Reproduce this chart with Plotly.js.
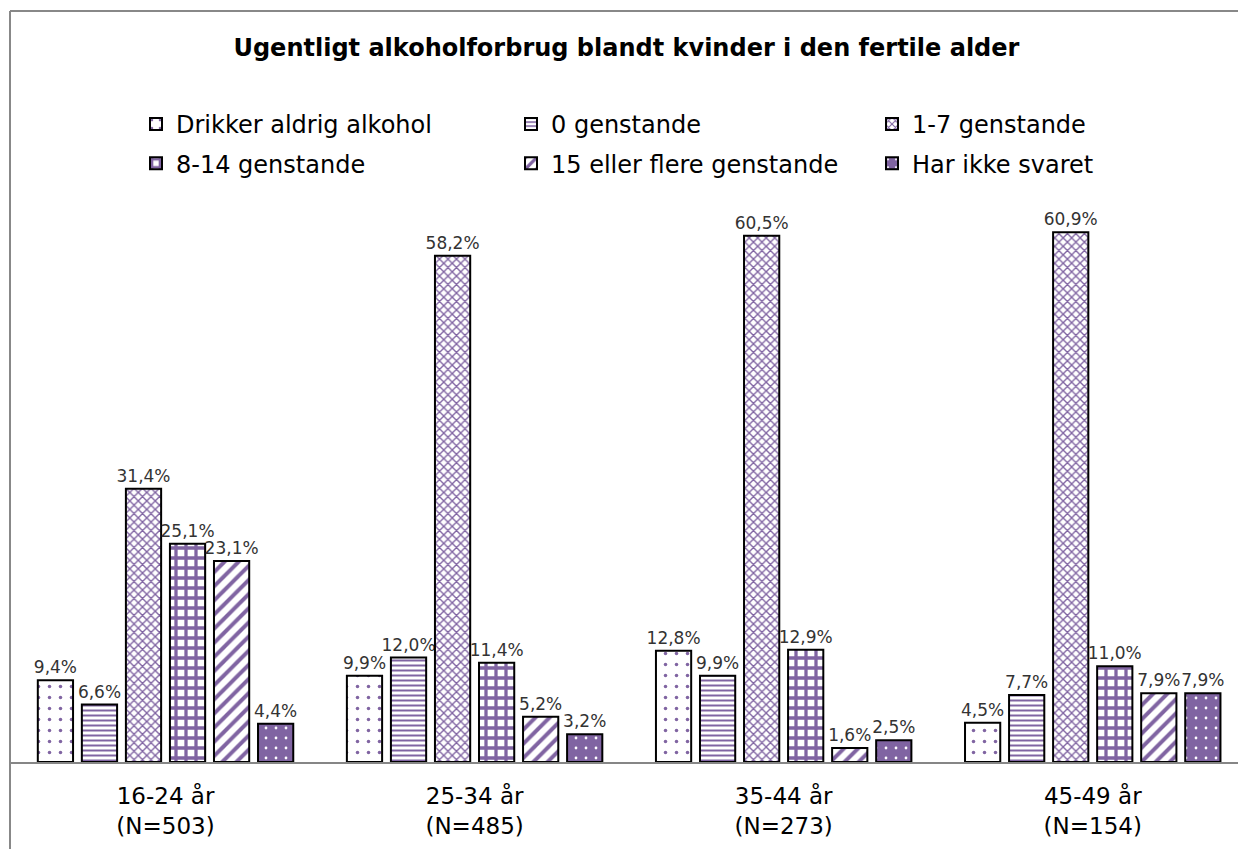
<!DOCTYPE html>
<html><head><meta charset="utf-8">
<script src="https://cdn.plot.ly/plotly-3.0.1.min.js"></script>
<style>html,body{margin:0;padding:0;background:#fff}</style>
</head><body>
<div id="chart" style="width:1238px;height:849px"></div>
<script>
const categories = ["16-24 år<br>(N=503)", "25-34 år<br>(N=485)", "35-44 år<br>(N=273)", "45-49 år<br>(N=154)"];
const seriesNames = ["Drikker aldrig alkohol", "0 genstande", "1-7 genstande", "8-14 genstande", "15 eller flere genstande", "Har ikke svaret"];
const drikkerAldrig = [9.4, 9.9, 12.8, 4.5];
const nulGenstande = [6.6, 12.0, 9.9, 7.7];
const en7Genstande = [31.4, 58.2, 60.5, 60.9];
const otte14Genstande = [25.1, 11.4, 12.9, 11.0];
const femtenPlus = [23.1, 5.2, 1.6, 7.9];
const ikkeSvaret = [4.4, 3.2, 2.5, 7.9];
const seriesValues = [drikkerAldrig, nulGenstande, en7Genstande, otte14Genstande, femtenPlus, ikkeSvaret];

const purple = "#8064A2";
const patterns = [
  {shape: ".", fgcolor: purple, bgcolor: "#ffffff", size: 11, solidity: 0.08, fillmode: "overlay", fgopacity: 1},
  {shape: "-", fgcolor: purple, bgcolor: "#ffffff", size: 5, solidity: 0.4, fillmode: "overlay", fgopacity: 1},
  {shape: "x", fgcolor: purple, bgcolor: "#ffffff", size: 6, solidity: 0.4, fillmode: "overlay", fgopacity: 1},
  {shape: "+", fgcolor: purple, bgcolor: "#ffffff", size: 10, solidity: 0.55, fillmode: "overlay", fgopacity: 1},
  {shape: "/", fgcolor: purple, bgcolor: "#ffffff", size: 10, solidity: 0.4, fillmode: "overlay", fgopacity: 1},
  {shape: ".", fgcolor: "#ffffff", bgcolor: purple, size: 10, solidity: 0.06, fillmode: "overlay", fgopacity: 1}
];
const legendIds = ["legend", "legend2", "legend3", "legend", "legend2", "legend3"];

const traces = seriesNames.map((name, i) => ({
  type: "bar",
  name: name,
  x: categories,
  y: seriesValues[i],
  legend: legendIds[i],
  legendgroup: "g" + i,
  marker: {
    color: i === 5 ? purple : "#ffffff",
    line: {color: "#000000", width: 2},
    pattern: patterns[i]
  },
  texttemplate: "%{y:.1f}%",
  textposition: "outside",
  constraintext: "none",
  textangle: 0,
  cliponaxis: false,
  textfont: {family: "DejaVu Sans", size: 17, color: "#333333"},
  hoverinfo: "skip"
}));

const legendCommon = {
  orientation: "v",
  xanchor: "left",
  yanchor: "middle",
  y: (762 - 144) / 609,
  tracegroupgap: 5,
  traceorder: "grouped",
  font: {family: "DejaVu Sans", size: 24, color: "#000000"},
  bgcolor: "rgba(0,0,0,0)"
};

const layout = {
  width: 1238, height: 849,
  margin: {l: 11, r: 0, t: 153, b: 87},
  paper_bgcolor: "#ffffff", plot_bgcolor: "#ffffff",
  separators: ", ",
  barmode: "group",
  bargap: 0.145,
  bargroupgap: 0.2,
  title: {
    text: "<b>Ugentligt alkoholforbrug blandt kvinder i den fertile alder</b>",
    font: {family: "DejaVu Sans", size: 24, color: "#000000"},
    x: 0.506, xanchor: "center", y: 1 - 48/849, yanchor: "middle"
  },
  xaxis: {
    type: "category",
    range: [-0.5, 3.47],
    showline: true, linecolor: "#868686", linewidth: 1.5,
    ticks: "", showgrid: false, zeroline: false,
    ticklabelstandoff: 13,
    tickfont: {family: "DejaVu Sans", size: 23, color: "#000000"}
  },
  yaxis: {
    range: [0, 70],
    visible: false, showgrid: false, zeroline: false
  },
  showlegend: true,
  legend: Object.assign({}, legendCommon, {x: (136 - 11) / 1227}),
  legend2: Object.assign({}, legendCommon, {x: (511 - 11) / 1227}),
  legend3: Object.assign({}, legendCommon, {x: (872 - 11) / 1227}),
  shapes: [
    {type: "line", xref: "paper", yref: "paper", x0: -1/1227, x1: -1/1227, y0: (762-11)/609, y1: (762-860)/609, line: {color: "#888888", width: 2}},
    {type: "line", xref: "paper", yref: "paper", x0: -1/1227, x1: 1.01, y0: (762-11)/609, y1: (762-11)/609, line: {color: "#888888", width: 2}}
  ]
};

Plotly.newPlot("chart", traces, layout, {displayModeBar: false, staticPlot: true});
</script>
</body></html>
